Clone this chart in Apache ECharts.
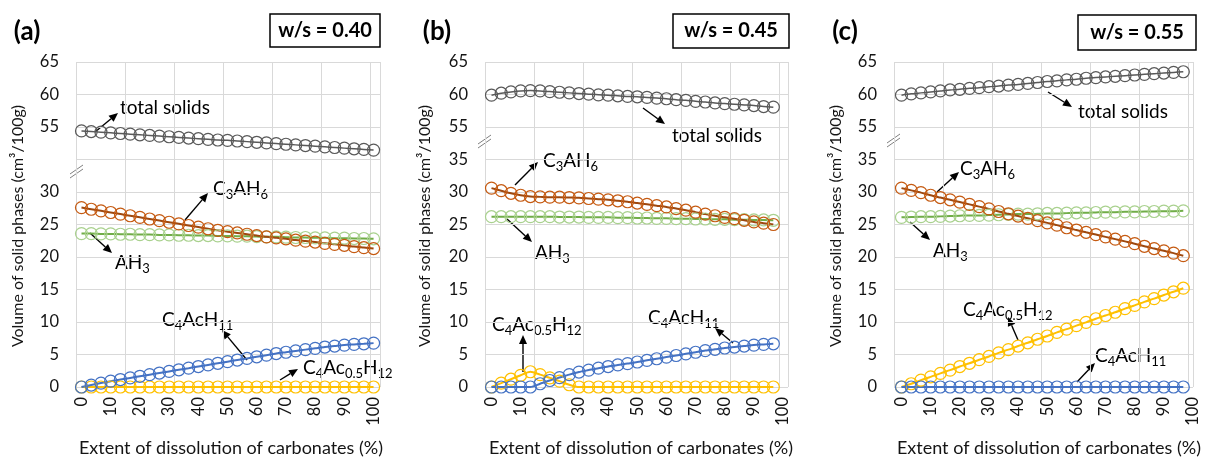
<!DOCTYPE html>
<html>
<head>
<meta charset="utf-8">
<script src="https://cdn.jsdelivr.net/npm/echarts@6/dist/echarts.min.js"></script>
<style>
  html, body { margin: 0; padding: 0; background: #fff; }
  #chart { width: 1211px; height: 458px; }
</style>
</head>
<body>
<div id="chart"></div>
<script>
//---------------------------Data---------------------------
// extent of dissolution (%)
const xA = [0, 3.33, 6.67, 10, 13.33, 16.67, 20, 23.33, 26.67, 30, 33.33, 36.67, 40, 43.33, 46.67,
    50, 53.33, 56.67, 60, 63.33, 66.67, 70, 73.33, 76.67, 80, 83.33, 86.67, 90, 93.33, 96.67, 100];
const xBC = [0, 3.33, 6.67, 10, 13.33, 16.67, 20, 23.33, 26.67, 30, 33.33, 36.67, 40, 43.33, 46.67,
    50, 53.33, 56.67, 60, 63.33, 66.67, 70, 73.33, 76.67, 80, 83.33, 86.67, 90, 93.33, 96.67];
const xTicks = [0, 10, 20, 30, 40, 50, 60, 70, 80, 90, 100];

// (a) w/s = 0.40
const totalA = [54.4, 54.3, 54.2, 54.1, 54.0, 53.9, 53.8, 53.7, 53.6, 53.5, 53.4, 53.3, 53.2, 53.1, 53.0,
    52.95, 52.85, 52.75, 52.65, 52.55, 52.45, 52.35, 52.25, 52.15, 52.05, 51.95, 51.85, 51.75, 51.65, 51.55, 51.45];
const c3ah6A = [27.6, 27.35, 27.1, 26.85, 26.6, 26.35, 26.1, 25.85, 25.6, 25.35, 25.1, 24.85, 24.6, 24.35, 24.1,
    23.9, 23.7, 23.5, 23.3, 23.1, 22.95, 22.8, 22.6, 22.45, 22.3, 22.1, 21.95, 21.8, 21.6, 21.45, 21.3];
const ah3A = [23.6, 23.6, 23.55, 23.55, 23.5, 23.5, 23.45, 23.45, 23.4, 23.4, 23.35, 23.35, 23.3, 23.3, 23.25,
    23.25, 23.2, 23.2, 23.15, 23.1, 23.1, 23.05, 23.0, 23.0, 22.95, 22.95, 22.9, 22.9, 22.85, 22.85, 22.8];
const hcA = [0, 0.3, 0.6, 0.9, 1.15, 1.4, 1.65, 1.9, 2.15, 2.4, 2.65, 2.9, 3.15, 3.4, 3.65,
    3.9, 4.15, 4.4, 4.65, 4.9, 5.15, 5.35, 5.55, 5.75, 5.95, 6.15, 6.3, 6.45, 6.55, 6.65, 6.75];
const mcA = [0, 0, 0, 0, 0, 0, 0, 0, 0, 0, 0, 0, 0, 0, 0, 0, 0, 0, 0, 0, 0, 0, 0, 0, 0, 0, 0, 0, 0, 0, 0];

// (b) w/s = 0.45
const totalB = [59.9, 60.2, 60.4, 60.55, 60.6, 60.55, 60.45, 60.35, 60.25, 60.15, 60.05, 59.95, 59.9, 59.8, 59.7,
    59.65, 59.55, 59.45, 59.35, 59.2, 59.1, 58.95, 58.85, 58.7, 58.6, 58.5, 58.4, 58.3, 58.15, 58.05];
const c3ah6B = [30.6, 30.2, 29.8, 29.5, 29.3, 29.25, 29.2, 29.2, 29.15, 29.1, 29.0, 28.9, 28.8, 28.65, 28.5,
    28.3, 28.1, 27.9, 27.7, 27.45, 27.2, 26.9, 26.6, 26.35, 26.1, 25.9, 25.65, 25.4, 25.2, 25.0];
const ah3B = [26.2, 26.2, 26.2, 26.2, 26.2, 26.2, 26.2, 26.15, 26.15, 26.15, 26.1, 26.1, 26.1, 26.05, 26.05,
    26.0, 26.0, 25.95, 25.95, 25.9, 25.9, 25.85, 25.85, 25.8, 25.8, 25.75, 25.75, 25.7, 25.7, 25.65];
const hcB = [0, 0, 0, 0, 0, 0.5, 1.0, 1.45, 1.9, 2.3, 2.6, 2.9, 3.15, 3.4, 3.6,
    3.85, 4.1, 4.35, 4.6, 4.85, 5.1, 5.35, 5.6, 5.8, 6.0, 6.15, 6.3, 6.45, 6.55, 6.65];
const mcB = [0, 0.6, 1.2, 1.8, 2.35, 1.9, 1.4, 0.9, 0.35, 0, 0, 0, 0, 0, 0,
    0, 0, 0, 0, 0, 0, 0, 0, 0, 0, 0, 0, 0, 0, 0];

// (c) w/s = 0.55
const totalC = [59.9, 60.1, 60.25, 60.4, 60.55, 60.7, 60.8, 60.95, 61.05, 61.2, 61.3, 61.45, 61.55, 61.7, 61.85,
    62.0, 62.1, 62.25, 62.35, 62.5, 62.6, 62.7, 62.8, 62.9, 63.0, 63.1, 63.2, 63.3, 63.4, 63.5];
const c3ah6C = [30.6, 30.25, 29.9, 29.5, 29.15, 28.8, 28.45, 28.1, 27.75, 27.4, 27.0, 26.65, 26.3, 25.95, 25.6,
    25.25, 24.9, 24.5, 24.15, 23.8, 23.45, 23.1, 22.75, 22.4, 22.05, 21.65, 21.3, 20.95, 20.6, 20.2];
const ah3C = [26.1, 26.15, 26.2, 26.2, 26.25, 26.3, 26.35, 26.4, 26.4, 26.45, 26.5, 26.55, 26.6, 26.6, 26.65,
    26.7, 26.7, 26.75, 26.8, 26.8, 26.85, 26.9, 26.9, 26.95, 26.95, 27.0, 27.0, 27.05, 27.05, 27.1];
const hcC = [0, 0, 0, 0, 0, 0, 0, 0, 0, 0, 0, 0, 0, 0, 0, 0, 0, 0, 0, 0, 0, 0, 0, 0, 0, 0, 0, 0, 0, 0];
const mcC = [0, 0.5, 1.05, 1.55, 2.1, 2.6, 3.15, 3.65, 4.2, 4.7, 5.25, 5.75, 6.3, 6.8, 7.35,
    7.85, 8.4, 8.9, 9.45, 9.95, 10.5, 11.0, 11.5, 12.05, 12.55, 13.1, 13.6, 14.15, 14.65, 15.2];

const panelTags = ['(a)', '(b)', '(c)'];
const wsLabels = ['w/s = 0.40', 'w/s = 0.45', 'w/s = 0.55'];

//---------------------------Layout---------------------------
const FONT = 'Lato';
const GRID = '#d9d9d9';
const TXT = '#141414';

// plot boxes (px) and x range of each panel
const panels = [
    {left: 76, width: 304, xmin: -1.88, xmax: 102.2, x: xA,
        data: [totalA, ah3A, c3ah6A, mcA, hcA], box: [270, 14, 110, 33], tag: [27, 32], yName: 18, xName: 231, brk: [70, 178]},
    {left: 485, width: 303, xmin: -2.23, xmax: 101.7, x: xBC,
        data: [totalB, ah3B, c3ah6B, mcB, hcB], box: [673, 14, 116, 34], tag: [437, 32], yName: 425, xName: 641, brk: [478, 148]},
    {left: 894, width: 299, xmin: -2.57, xmax: 100, x: xBC,
        data: [totalC, ah3C, c3ah6C, mcC, hcC], box: [1078, 15, 118, 35], tag: [845, 32], yName: 836, xName: 1049, brk: [887, 147]}
];
const TOP = 62, HEIGHT = 325;

// total solids, AH3, C3AH6, C4Ac0.5H12, C4AcH11
const markColors = ['#595959', '#a9d18e', '#c55a11', '#ffc000', '#4472c4'];
const lineColors = ['#595959', '#70ad47', '#9e480e', '#ffc000', '#4472c4'];
const lineWidths = [1.5, 2, 2, 2, 2];

//---------------------------Function---------------------------
// values above the break are drawn 15 lower on the axis
function toAxis(v) {
    return v > 50 ? v - 15 : v;
}

function arrow(x1, y1, x2, y2) {
    let a = Math.atan2(y2 - y1, x2 - x1);
    let len = 9, half = 4;
    let bx = x2 - len * Math.cos(a), by = y2 - len * Math.sin(a);
    let px = -Math.sin(a) * half, py = Math.cos(a) * half;
    return [
        {type: 'line', shape: {x1: x1, y1: y1, x2: bx, y2: by}, style: {stroke: '#000', lineWidth: 1.4}},
        {type: 'polygon', shape: {points: [[x2, y2], [bx + px, by + py], [bx - px, by - py]]}, style: {fill: '#000'}}
    ];
}

const rich = {
    n: {fontSize: 19, fontFamily: FONT, color: TXT, lineHeight: 24, verticalAlign: 'middle'},
    s: {fontSize: 13, fontFamily: FONT, color: TXT, lineHeight: 13, verticalAlign: 'bottom'}
};
function label(x, y, text) {
    return {type: 'text', x: x, y: y, style: {text: text, rich: rich, align: 'left', verticalAlign: 'middle'}};
}

const T = '{n|total solids}';
const C3 = '{n|C}{s|3}{n|AH}{s|6}';
const AH = '{n|AH}{s|3}';
const HC = '{n|C}{s|4}{n|AcH}{s|11}';
const MC = '{n|C}{s|4}{n|Ac}{s|0.5}{n|H}{s|12}';

// label positions and arrows per panel
const notes = [
    [[120, 108, T, 95, 132, 118, 113], [213, 189, C3, 185, 220, 208, 193], [115, 263, AH, 90, 233, 112, 253],
     [162, 320, HC, 247, 360, 222, 330], [303, 368, MC, 280, 380, 298, 369]],
    [[672, 136, T, 643, 108, 665, 124], [543, 161, C3, 515, 185, 538, 162], [535, 253, AH, 507, 219, 532, 242],
     [492, 325, MC, 523, 372, 523, 335], [648, 318, HC, 733, 343, 715, 328]],
    [[1078, 112, T, 1048, 92, 1072, 107], [960, 169, C3, 937, 192, 959, 172], [933, 251, AH, 910, 222, 930, 240],
     [963, 310, MC, 1018, 340, 1008, 317], [1095, 356, HC, 1077, 382, 1095, 363]]
];

//---------------------------Option---------------------------
let grids = [], xAxes = [], yAxes = [], series = [], graphics = [];

panels.forEach(function (p, k) {
    grids.push({left: p.left, top: TOP, width: p.width, height: HEIGHT});

    // vertical gridlines every 49px
    xAxes.push({
        gridIndex: k, type: 'value', position: 'bottom', min: 0, max: p.width / 49, interval: 1,
        axisLine: {show: false}, axisTick: {show: false}, axisLabel: {show: false},
        splitLine: {show: true, lineStyle: {color: GRID, width: 1}}
    });
    // data axis with the tick labels
    xAxes.push({
        gridIndex: k, type: 'value', position: 'bottom', offset: 0, min: p.xmin, max: p.xmax,
        axisLine: {show: false}, axisTick: {show: false}, splitLine: {show: false},
        axisLabel: {customValues: xTicks, rotate: 90, margin: 10, fontSize: 16.5, fontFamily: FONT, color: TXT}
    });
    yAxes.push({
        gridIndex: k, type: 'value', min: 0, max: 50, interval: 5,
        axisLine: {show: false}, axisTick: {show: false},
        splitLine: {show: true, lineStyle: {color: GRID, width: 1}},
        axisLabel: {
            margin: 17, fontSize: 16.5, fontFamily: FONT, color: TXT,
            formatter: function (v) {
                if (v <= 30) return String(v);
                if (v === 35) return k === 0 ? '' : '35';
                return String(v + 15);
            }
        }
    });

    p.data.forEach(function (vals, s) {
        series.push({
            type: 'line', xAxisIndex: k * 2 + 1, yAxisIndex: k,
            data: vals.map(function (v, i) { return [p.x[i], toAxis(v)]; }),
            smooth: 0.25, symbol: 'circle', symbolSize: 12,
            itemStyle: {color: 'rgba(255,255,255,0)', borderColor: markColors[s], borderWidth: 1.2},
            lineStyle: {color: lineColors[s], width: lineWidths[s]},
            clip: false, silent: true, animation: false
        });
    });

    // panel tag and w/s box
    graphics.push({type: 'text', x: p.tag[0], y: p.tag[1],
        style: {text: panelTags[k], fontSize: 26, fontWeight: 'bold', fontFamily: FONT, fill: '#000', align: 'center', verticalAlign: 'middle'}});
    graphics.push({type: 'rect', shape: {x: p.box[0], y: p.box[1], width: p.box[2], height: p.box[3]},
        style: {fill: '#fff', stroke: '#000', lineWidth: 1.5}});
    graphics.push({type: 'text', x: p.box[0] + p.box[2] / 2, y: p.box[1] + p.box[3] / 2,
        style: {text: wsLabels[k], fontSize: 20, fontWeight: 'bold', fontFamily: FONT, fill: '#000', align: 'center', verticalAlign: 'middle'}});

    // axis titles
    graphics.push({type: 'text', x: p.yName, y: 226, rotation: Math.PI / 2,
        style: {text: 'Volume of solid phases (cm³/100g)', fontSize: 16, fontFamily: FONT, fill: TXT, align: 'center', verticalAlign: 'middle'}});
    graphics.push({type: 'text', x: p.xName, y: 448,
        style: {text: 'Extent of dissolution of carbonates (%)', fontSize: 18, fontFamily: FONT, fill: TXT, align: 'center', verticalAlign: 'middle'}});

    // axis break mark
    let bx = p.brk[0], by = p.brk[1];
    graphics.push({type: 'line', shape: {x1: bx, y1: by, x2: bx + 13, y2: by - 9}, style: {stroke: '#7f7f7f', lineWidth: 1}});
    graphics.push({type: 'line', shape: {x1: bx, y1: by - 4, x2: bx + 13, y2: by - 13}, style: {stroke: '#7f7f7f', lineWidth: 1}});

    notes[k].forEach(function (n) {
        graphics.push(label(n[0], n[1], n[2]));
        arrow(n[3], n[4], n[5], n[6]).forEach(function (g) { graphics.push(g); });
    });
});

let chart = echarts.init(document.getElementById('chart'));
chart.setOption({
    backgroundColor: '#fff',
    animation: false,
    grid: grids,
    xAxis: xAxes,
    yAxis: yAxes,
    series: series,
    graphic: {elements: graphics}
});
window.onresize = function () {
    chart.resize();
};
</script>
</body>
</html>
